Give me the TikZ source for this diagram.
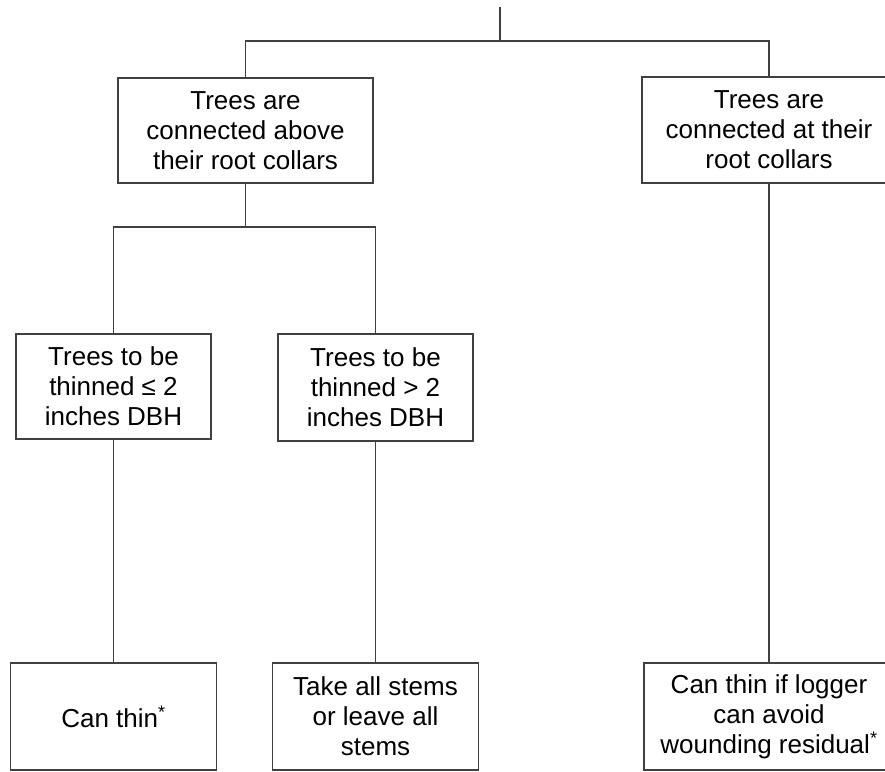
\documentclass[tikz,border=0pt]{standalone}
\usepackage{fontspec}
\setmainfont{Liberation Sans}

\begin{document}
\begin{tikzpicture}[x=1pt,y=-1pt,line width=1.4pt,
  box/.style={draw=black!75,fill=white,align=center,inner sep=0pt,
    font=\fontsize{26}{30}\selectfont},
  link/.style={draw=black!75}]
\useasboundingbox (0,0) rectangle (885,771);
\clip (0,0) rectangle (885,771);
% ---- decision boxes ----
\foreach \n/\x/\y/\w/\h/\t in {
  above/245.5/130.5/255/105/{Trees are\\connected above\\their root collars},
  atcollar/769/130/254/106/{Trees are\\connected at their\\root collars},
  small/113.5/386.5/195/105/{Trees to be\\thinned ≤ 2\\inches DBH},
  large/375.5/387.5/195/107/{Trees to be\\thinned > 2\\inches DBH},
  canthin/113.5/716.5/206/107/{Can thin\textsuperscript{*}},
  takeall/375.5/716.5/206/107/{Take all stems\\or leave all\\stems},
  avoid/769/716.5/250/107/{Can thin if logger\\can avoid\\wounding residual\textsuperscript{*}}%
}{
  \node[box,minimum width=\w pt,minimum height=\h pt] (\n) at (\x,\y) {\t};
}
% ---- tree of connectors ----
\coordinate (top) at (500,7);
\coordinate (fork) at (500,41);
\coordinate (split) at (245.5,227);
\draw[link] (top) -- (fork);
\draw[link] (fork) -| (above);
\draw[link] (fork) -| (atcollar);
\draw[link] (above) -- (split);
\draw[link] (split) -| (small);
\draw[link] (split) -| (large);
\draw[link] (small) -- (canthin);
\draw[link] (large) -- (takeall);
\draw[link] (atcollar) -- (avoid);
\end{tikzpicture}
\end{document}
